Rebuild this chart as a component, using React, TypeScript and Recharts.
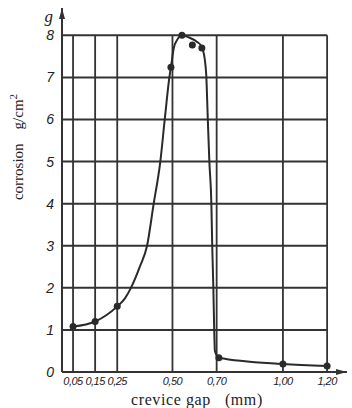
import React from "react";
import {
  ComposedChart,
  Line,
  Scatter,
  XAxis,
  YAxis,
  ReferenceLine,
} from "recharts";

// measured points (dots) — crevice gap (mm) vs corrosion (g/cm2)
const dotGap = [0.05, 0.15, 0.25, 0.493, 0.543, 0.59, 0.633, 0.71, 1.0, 1.2];
const dotCorrosion = [1.08, 1.2, 1.56, 7.24, 8.0, 7.77, 7.7, 0.34, 0.19, 0.14];

// points
const curveGap = [
  0.05, 0.15, 0.25, 0.285, 0.312, 0.352, 0.385, 0.415, 0.445, 0.465, 0.486,
  0.493, 0.506, 0.52, 0.543, 0.575, 0.61, 0.63, 0.646, 0.653, 0.66, 0.667,
  0.676, 0.68, 0.685, 0.689, 0.692, 0.71, 1.0, 1.2,
];
const curveCorrosion = [
  1.08, 1.2, 1.56, 1.75, 2.0, 2.5, 3.0, 4.0, 5.0, 6.0, 7.0,
  7.24, 7.7, 7.88, 8.0, 7.95, 7.85, 7.75, 7.44, 7.05, 6.0, 5.0,
  4.0, 3.0, 2.0, 1.0, 0.5, 0.34, 0.19, 0.14,
];

const xTicks = [0.05, 0.15, 0.25, 0.5, 0.7, 1.0, 1.2];
const yTicks = [0, 1, 2, 3, 4, 5, 6, 7, 8];

const dots = dotGap.map((x, i) => ({ x, y: dotCorrosion[i] }));
const curve = curveGap.map((x, i) => ({ x, y: curveCorrosion[i] }));

const INK = "#333";
const SERIF = "'Liberation Serif', 'Times New Roman', serif";
const SANS = "'Liberation Sans', Arial, sans-serif";

// axis line ending in an arrow head
function arrowShape(dir: "up" | "right", extra?: React.ReactNode) {
  return (props: any) => {
    const { x1, y1, x2, y2 } = props;
    const head =
      dir === "up"
        ? `${x2},${y2} ${x2 - 3},${y2 + 11} ${x2 + 3},${y2 + 11}`
        : `${x2},${y2} ${x2 - 11},${y2 - 3} ${x2 - 11},${y2 + 3}`;
    return (
      <g>
        <line x1={x1} y1={y1} x2={x2} y2={y2} stroke={INK} strokeWidth={2} />
        <polygon points={head} fill={INK} />
        {extra}
      </g>
    );
  };
}

export default function App() {
  return (
    <div style={{ position: "absolute", left: 0, top: 0, background: "#fff" }}>
      <ComposedChart
        width={352}
        height={408}
        margin={{ top: 8, right: 5, bottom: 0, left: 0 }}
      >
        <XAxis
          type="number"
          dataKey="x"
          domain={[0, 1.29]}
          ticks={xTicks}
          interval={0}
          allowDataOverflow
          axisLine={false}
          tickLine={false}
          tickSize={0}
          tickMargin={5}
          height={36}
          tickFormatter={(v: number) => v.toFixed(2).replace(".", ",")}
          tick={{ fill: "#222", fontSize: 11, fontStyle: "italic", fontFamily: SANS, letterSpacing: -0.5 }}
          label={{
            content: () => (
              <text x={131} y={405} fill="#222" fontFamily={SERIF} fontSize={16} letterSpacing={0.6}>
                crevice gap
                <tspan dx={14}>(mm)</tspan>
              </text>
            ),
          }}
        />
        <YAxis
          type="number"
          dataKey="y"
          domain={[0, 8.65]}
          ticks={yTicks}
          interval={0}
          allowDataOverflow
          axisLine={false}
          tickLine={false}
          tickSize={0}
          tickMargin={8}
          width={62}
          tick={{ fill: "#222", fontSize: 14, fontStyle: "italic", fontFamily: SANS }}
          label={{
            content: () => (
              <text
                x={23}
                y={147}
                transform="rotate(-90, 23, 147)"
                textAnchor="middle"
                fill="#222"
                fontFamily={SERIF}
                fontSize={15}
              >
                corrosion
                <tspan dx={14}>g/cm</tspan>
                <tspan dy={-6} fontSize={11}>2</tspan>
              </text>
            ),
          }}
        />

        {/* grid */}
        {yTicks.slice(1).map((k) => (
          <ReferenceLine
            key={`h${k}`}
            segment={[{ x: 0, y: k }, { x: 1.2, y: k }]}
            stroke={INK}
            strokeWidth={2}
          />
        ))}
        {xTicks.map((k) => (
          <ReferenceLine
            key={`v${k}`}
            segment={[{ x: k, y: 0 }, { x: k, y: 8 }]}
            stroke={INK}
            strokeWidth={1.8}
          />
        ))}

        {/* axes with arrows */}
        <ReferenceLine
          segment={[{ x: 0, y: 0 }, { x: 1.29, y: 0 }]}
          shape={arrowShape("right")}
        />
        <ReferenceLine
          segment={[{ x: 0, y: 0 }, { x: 0, y: 8.65 }]}
          shape={(p: any) =>
            arrowShape(
              "up",
              <text
                x={p.x2 - 9}
                y={p.y2 + 14}
                textAnchor="end"
                fill="#222"
                fontFamily={SERIF}
                fontStyle="italic"
                fontSize={17}
              >
                g
              </text>
            )(p)
          }
        />

        <Line
          data={curve}
          dataKey="y"
          type="monotone"
          stroke="#2a2a2a"
          strokeWidth={2}
          dot={false}
          isAnimationActive={false}
        />
        <Scatter
          data={dots}
          dataKey="y"
          fill="#2a2a2a"
          shape={(p: any) => <circle cx={p.cx} cy={p.cy} r={3.5} fill="#2a2a2a" />}
          isAnimationActive={false}
        />
      </ComposedChart>
    </div>
  );
}
